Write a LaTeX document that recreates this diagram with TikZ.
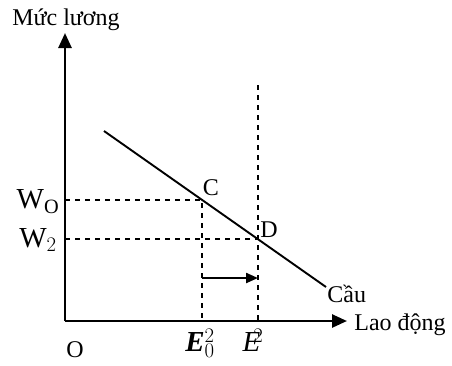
\documentclass[tikz,border=0pt]{standalone}
\usepackage{fontspec}
\setmainfont{Liberation Serif}
\usetikzlibrary{arrows.meta,positioning,calc}
\tikzset{every picture/.style={line width=0.75pt}}
\tikzset{
    axis/.style={line width=2.6pt,-{Triangle[length=15pt,width=13pt]}},
    guide/.style={line width=2pt,dash pattern=on 5pt off 5pt},
    lbl/.style={inner sep=0pt,font=\fontsize{24}{27}\selectfont},
    biglbl/.style={inner sep=0pt,font=\fontsize{29}{32}\selectfont}
}
\begin{document}
\begin{tikzpicture}[x=1pt,y=-1pt]
    \useasboundingbox (0,0) rectangle (452,365);
    % axes
    \coordinate (origin) at (65,321);
    \coordinate (ytop) at (65,33);
    \coordinate (xend) at (347,321);
    \draw[axis] (origin) -- (ytop);
    \draw[axis] (origin) -- (xend);
    % demand curve
    \coordinate (dstart) at (104,131);
    \coordinate (dend) at (326,287);
    \draw[line width=1.9pt] (dstart) -- (dend);
    \coordinate (C) at (202,200);
    \coordinate (D) at (258,239);
    \coordinate (wo) at (65,200);
    \coordinate (wtwo) at (65,239);
    \coordinate (eo) at (202,321);
    \coordinate (etwo) at (258,321);
    \coordinate (etop) at (258,85);
    \draw[guide] (wo) -- (C) -- (eo);
    \draw[guide] (wtwo) -- (D);
    \draw[guide] (etop) -- (etwo);
    % shift arrow
    \coordinate (sa) at (202,278);
    \coordinate (sb) at (258,278);
    \draw[line width=2.2pt,-{Triangle[length=12pt,width=10pt]}] (sa) -- (sb);
    % labels
    \node[lbl] (ylab) at (66,20) {Mức lương};
    \node[lbl,anchor=west] (xlab) at (354,325) {Lao động};
    \node[lbl,anchor=west] (cau) at (327,294) {Cầu};
    \node[lbl] (olab) at (75,350) {O};
    \node[lbl] (clab) at (211,188) {C};
    \node[lbl] (dlab) at (269,230) {D};
    \node[biglbl] (wolab) at (38,202) {W$_{\mathrm{O}}$};
    \node[biglbl] (wtwolab) at (38,240) {W$_{2}$};
    \node[biglbl] (eolab) at (200,343) {{\bfseries\itshape E}$_{0}^{2}$};
    \node[biglbl] (etwolab) at (253,340) {{\itshape E}$^{\kern-7pt 2}$};
\end{tikzpicture}
\end{document}
